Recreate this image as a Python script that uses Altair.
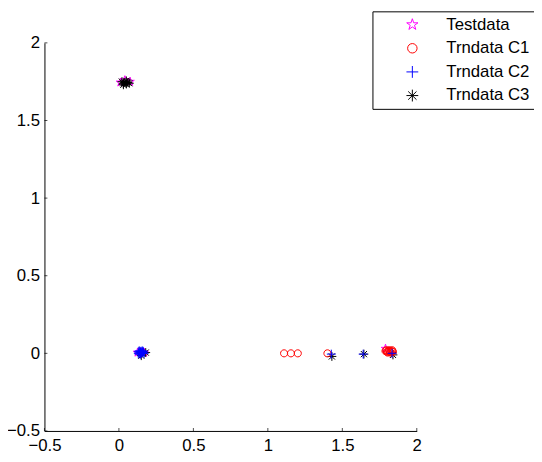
import altair as alt
import pandas as pd

# ---- data ----
series_names = ["Testdata", "Trndata C1", "Trndata C2", "Trndata C3"]
series_colors = ["#ff00ff", "#ff0000", "#0000ff", "#000000"]

test_x = [0.01, 0.04, 0.075, 0.125, 0.17, 1.79]
test_y = [1.745, 1.76, 1.75, 0.005, 0.005, 0.03]

c1_x = [1.109, 1.155, 1.201, 1.40, 1.79, 1.80, 1.81, 1.82, 1.83, 1.84, 1.795, 1.815, 1.835, 1.805, 1.825]
c1_y = [0.0, 0.0, 0.0, 0.0, 0.015, 0.01, 0.015, 0.01, 0.015, 0.01, 0.02, 0.02, 0.02, 0.005, 0.005]

c2_x = [0.13, 0.135, 0.14, 0.145, 0.15, 0.155, 0.16, 0.13, 0.14, 0.15, 0.16, 0.17, 0.135, 0.145, 0.155, 0.165,
        1.426, 1.64, 1.834]
c2_y = [0.01, 0.015, 0.015, 0.01, 0.01, 0.015, 0.015, 0.0, 0.005, 0.0, 0.005, 0.0, -0.005, -0.005, 0.005, 0.01,
        -0.005, -0.005, 0.0]

c3_x = [0.02, 0.03, 0.04, 0.05, 0.06, 0.07, 0.03, 0.05, 0.15, 0.18, 1.43, 1.645, 1.84]
c3_y = [1.75, 1.74, 1.745, 1.735, 1.745, 1.74, 1.73, 1.755, -0.015, 0.005, -0.02, -0.005, -0.01]

tick_values = [-0.5, 0, 0.5, 1, 1.5, 2]

# ---- marker shapes ----
STAR = ("M0,-1L0.225,-0.309L0.951,-0.309L0.363,0.118L0.588,0.809L0,0.382"
        "L-0.588,0.809L-0.363,0.118L-0.951,-0.309L-0.225,-0.309Z")
CIRCLE = "M0.8,0A0.8,0.8,0,1,1,-0.8,0A0.8,0.8,0,1,1,0.8,0Z"
PLUS = "M-1,0L1,0M0,-1L0,1"
ASTER = "M-1,0L1,0M0,-1L0,1M-0.7,-0.7L0.7,0.7M-0.7,0.7L0.7,-0.7"
series_shapes = [STAR, CIRCLE, PLUS, ASTER]

draw_rank = {"Testdata": 0, "Trndata C3": 1, "Trndata C1": 2, "Trndata C2": 3}

rows = []
for name, xs, ys in [("Testdata", test_x, test_y), ("Trndata C1", c1_x, c1_y),
                     ("Trndata C2", c2_x, c2_y), ("Trndata C3", c3_x, c3_y)]:
    for xv, yv in zip(xs, ys):
        rows.append({"series": name, "x": xv, "y": yv, "rank": draw_rank[name]})
df = pd.DataFrame(rows).sort_values("rank", kind="stable")

xticks_df = pd.DataFrame({"x": tick_values, "y": [-0.5] * len(tick_values)})
yticks_df = pd.DataFrame({"x": [-0.5] * len(tick_values), "y": tick_values})

xscale = alt.Scale(domain=[-0.5, 2], nice=False, zero=False)
yscale = alt.Scale(domain=[-0.5, 2], nice=False, zero=False)

legend_def = alt.Legend(title=None, orient="none", legendX=333, legendY=-32)

points = alt.Chart(df).mark_point(filled=False, size=81, strokeWidth=1, opacity=1).encode(
    x=alt.X("x:Q", scale=xscale,
            axis=alt.Axis(values=tick_values, title=None, grid=False, tickSize=0,
                          labelPadding=7, labelFlush=False, format="~g")),
    y=alt.Y("y:Q", scale=yscale,
            axis=alt.Axis(values=tick_values, title=None, grid=False, tickSize=0,
                          labelPadding=5, labelFlush=False, format="~g")),
    color=alt.Color("series:N", scale=alt.Scale(domain=series_names, range=series_colors),
                    legend=legend_def),
    shape=alt.Shape("series:N", scale=alt.Scale(domain=series_names, range=series_shapes),
                    legend=legend_def),
    order=alt.Order("rank:Q"),
)

xticks = alt.Chart(xticks_df).mark_tick(orient="vertical", size=3, yOffset=-1.5,
                                        color="#000000", thickness=1).encode(
    x=alt.X("x:Q", scale=xscale), y=alt.Y("y:Q", scale=yscale))
yticks = alt.Chart(yticks_df).mark_tick(orient="horizontal", size=3, xOffset=1.5,
                                        color="#000000", thickness=1).encode(
    x=alt.X("x:Q", scale=xscale), y=alt.Y("y:Q", scale=yscale))

chart = alt.layer(points, xticks, yticks).properties(
    width=378, height=394,
    autosize=alt.AutoSizeParams(type="none"),
    padding={"left": 37, "top": 32, "right": 119, "bottom": 20},
).configure_view(stroke=None).configure_axis(
    domainColor="#000000", domainWidth=1, labelFont="Liberation Sans",
    labelFontSize=17, labelColor="#000000",
).configure_legend(
    labelFont="Liberation Sans", labelFontSize=17, labelColor="#000000",
    strokeColor="#000000", fillColor="#ffffff", padding=5, symbolSize=144,
    symbolStrokeWidth=1, symbolOffset=27, labelOffset=26, rowPadding=6,
    labelLimit=300,
)

chart.save("out.html", embed_options={"renderer": "svg", "actions": False})
